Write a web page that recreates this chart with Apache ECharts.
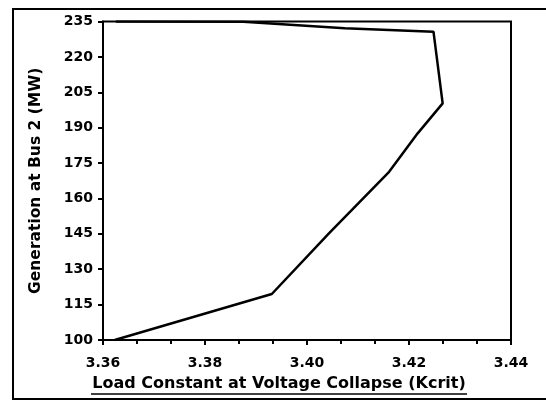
<!DOCTYPE html>
<html>
<head>
<meta charset="UTF-8">
<title>Kcrit vs generation</title>
<script src="https://cdn.jsdelivr.net/npm/echarts@6/dist/echarts.min.js"></script>
<style>
	html, body { margin: 0; padding: 0; background: #fff; }
	#main { width: 546px; height: 401px; }
</style>
</head>
<body>
<div id="main"></div>
<script>
// data
var kcrit = [3.3623, 3.3931, 3.4043, 3.4161, 3.4217, 3.4266, 3.4248, 3.4074, 3.3875, 3.3625];
var genMW = [100, 119.5, 145.2, 171.3, 187.6, 200.3, 230.7, 232.1, 234.9, 235];
var yBase = 100;   // y axis starts at 100, ticks every 15

var pts = [];
for (var i = 0; i < kcrit.length; i++) {
	pts.push([kcrit[i], genMW[i] - yBase]);
}

var font = '"DejaVu Sans", Arial, sans-serif';
var myChart = echarts.init(document.getElementById('main'), null, { renderer: 'canvas' });
var option = {
	animation: false,
	backgroundColor: '#fff',
	grid: {
		left: 103, right: 35, top: 21.5, bottom: 61,
		show: true, borderColor: '#000', borderWidth: 2, backgroundColor: 'transparent'
	},
	xAxis: {
		type: 'value',
		min: 3.36, max: 3.44, interval: 0.02,
		axisLine: { lineStyle: { color: '#000', width: 2 } },
		axisTick: { length: 5, lineStyle: { color: '#000', width: 2 } },
		minorTick: { show: true, splitNumber: 3, length: 4, lineStyle: { color: '#000', width: 2 } },
		splitLine: { show: false },
		axisLabel: {
			margin: 16, color: '#000', fontFamily: font, fontWeight: 'bold', fontSize: 14,
			formatter: function (v) { return v.toFixed(2); }
		}
	},
	yAxis: {
		type: 'value',
		min: 0, max: 135, interval: 15,
		name: 'Generation at Bus 2 (MW)',
		nameLocation: 'middle', nameGap: 59,
		nameTextStyle: { color: '#000', fontFamily: font, fontWeight: 'bold', fontSize: 15.5 },
		axisLine: { lineStyle: { color: '#000', width: 2 } },
		axisTick: { length: 5, lineStyle: { color: '#000', width: 2 } },
		splitLine: { show: false },
		axisLabel: {
			margin: 10, color: '#000', fontFamily: font, fontWeight: 'bold', fontSize: 14,
			formatter: function (v) { return String(v + yBase); }
		}
	},
	graphic: [
		{ type: 'rect', shape: { x: 13, y: 9, width: 560, height: 390 },
		  style: { fill: 'none', stroke: '#000', lineWidth: 2 }, z: 0 },
		{ type: 'text', x: 279, y: 384,
		  style: { text: 'Load Constant at Voltage Collapse (Kcrit)', fill: '#000',
		           font: 'bold 16px ' + font, textAlign: 'center', textVerticalAlign: 'middle' } },
		{ type: 'line', shape: { x1: 91, y1: 394, x2: 467, y2: 394 },
		  style: { stroke: '#000', lineWidth: 1.5 } }
	],
	series: [{
		type: 'line',
		data: pts,
		showSymbol: false,
		lineStyle: { color: '#000', width: 2.5 },
		z: 3
	}]
};
myChart.setOption(option);
</script>
</body>
</html>
